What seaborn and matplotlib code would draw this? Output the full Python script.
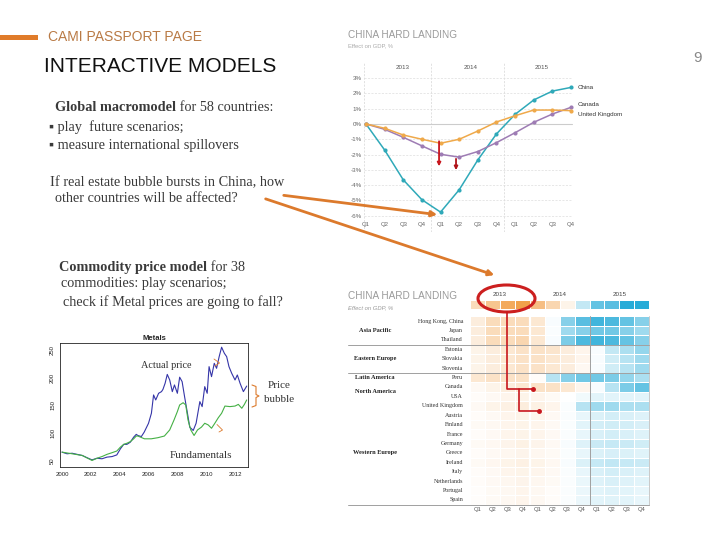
import numpy as np
import pandas as pd
import matplotlib
matplotlib.use('Agg')
import matplotlib.pyplot as plt
import seaborn as sns
from matplotlib.colors import LinearSegmentedColormap
from matplotlib.patches import Ellipse, Rectangle

# ---- data -------------------------------------------------------------
quarters = ['Q1', 'Q2', 'Q3', 'Q4'] * 3
years = ['2013', '2014', '2015']

# China hard landing scenario, effect on GDP (%)
china_gdp = [0.0, -1.7, -3.65, -4.95, -5.76, -4.3, -2.35, -0.65, 0.63, 1.57, 2.15, 2.39]
canada_gdp = [0.0, -0.35, -0.87, -1.43, -1.98, -2.17, -1.8, -1.22, -0.57, 0.11, 0.65, 1.09]
uk_gdp = [0.0, -0.28, -0.72, -1.0, -1.26, -1.0, -0.46, 0.13, 0.54, 0.91, 0.91, 0.87]

# heat map of the same scenario (relative effect, -1 .. 1)
heat_china = [-0.3, -0.5, -0.72, -0.8, -0.55, -0.35, -0.1, 0.25, 0.65, 0.7, 0.9, 0.9]
heat_rows = ['Hong Kong, China', 'Japan', 'Thailand', 'Estonia', 'Slovakia', 'Slovenia',
             'Peru', 'Canada', 'USA', 'United Kingdom', 'Austria', 'Finland', 'France',
             'Germany', 'Greece', 'Ireland', 'Italy', 'Netherlands', 'Portugal', 'Spain']
heat_values = [
    [-0.15, -0.3, -0.3, -0.3, -0.2, 0.03, 0.5, 0.7, 0.8, 0.75, 0.65, 0.5],
    [-0.15, -0.3, -0.3, -0.3, -0.2, 0.02, 0.4, 0.5, 0.6, 0.6, 0.5, 0.4],
    [-0.15, -0.3, -0.3, -0.35, -0.2, 0.03, 0.55, 0.75, 0.8, 0.75, 0.65, 0.5],
    [-0.1, -0.15, -0.2, -0.25, -0.25, -0.22, -0.15, -0.08, 0.03, 0.25, 0.35, 0.45],
    [-0.1, -0.15, -0.2, -0.25, -0.25, -0.2, -0.15, -0.08, 0.03, 0.2, 0.3, 0.4],
    [-0.1, -0.15, -0.2, -0.25, -0.25, -0.2, -0.15, -0.06, 0.03, 0.2, 0.3, 0.4],
    [-0.2, -0.25, -0.25, -0.25, -0.03, 0.3, 0.5, 0.6, 0.6, 0.55, 0.45, 0.35],
    [-0.05, -0.1, -0.15, -0.2, -0.25, -0.25, -0.2, -0.08, 0.03, 0.3, 0.55, 0.65],
    [-0.03, -0.05, -0.08, -0.1, -0.08, -0.04, 0.0, 0.06, 0.12, 0.12, 0.12, 0.12],
    [-0.05, -0.1, -0.12, -0.15, -0.12, -0.08, 0.02, 0.3, 0.4, 0.4, 0.35, 0.35],
    [-0.03, -0.05, -0.08, -0.1, -0.08, -0.05, 0.02, 0.1, 0.15, 0.18, 0.16, 0.14],
    [-0.04, -0.06, -0.08, -0.1, -0.08, -0.05, 0.02, 0.12, 0.18, 0.2, 0.18, 0.16],
    [-0.03, -0.05, -0.08, -0.1, -0.08, -0.05, 0.02, 0.1, 0.16, 0.18, 0.16, 0.14],
    [-0.04, -0.06, -0.09, -0.11, -0.09, -0.05, 0.03, 0.14, 0.22, 0.24, 0.22, 0.2],
    [-0.03, -0.05, -0.07, -0.09, -0.07, -0.04, 0.02, 0.1, 0.15, 0.17, 0.15, 0.13],
    [-0.04, -0.07, -0.1, -0.12, -0.1, -0.06, 0.03, 0.15, 0.24, 0.26, 0.24, 0.22],
    [-0.03, -0.05, -0.08, -0.1, -0.08, -0.05, 0.02, 0.1, 0.16, 0.18, 0.16, 0.14],
    [-0.03, -0.05, -0.07, -0.09, -0.07, -0.04, 0.02, 0.09, 0.14, 0.16, 0.14, 0.12],
    [-0.02, -0.04, -0.06, -0.08, -0.06, -0.03, 0.02, 0.08, 0.12, 0.14, 0.12, 0.1],
    [-0.02, -0.04, -0.06, -0.08, -0.06, -0.03, 0.02, 0.08, 0.12, 0.13, 0.12, 0.1],
]
regions = ['Asia Pacific', 'Eastern Europe', 'Latin America', 'North America', 'Western Europe']
region_rows = [1.5, 4.5, 6.5, 8.0, 14.5]

# metals price index vs fundamentals
actual_t = [2000.0, 2000.35, 2000.7, 2001.04, 2001.4, 2001.73, 2002.08, 2002.43, 2002.77,
            2003.12, 2003.47, 2003.8, 2004.05, 2004.28, 2004.5, 2004.74, 2004.97, 2005.15,
            2005.26, 2005.5, 2005.7, 2006.0, 2006.2, 2006.35, 2006.5, 2006.7, 2006.9,
            2007.0, 2007.15, 2007.3, 2007.47, 2007.65, 2007.8, 2008.0, 2008.16, 2008.33,
            2008.5, 2008.7, 2008.86, 2009.1, 2009.3, 2009.56, 2009.72, 2009.9, 2010.07,
            2010.2, 2010.37, 2010.56, 2010.72, 2010.9, 2011.07, 2011.26, 2011.42, 2011.58,
            2011.77, 2012.0, 2012.16, 2012.35, 2012.58, 2012.81]
actual_price = [66, 63, 64, 62, 60, 56, 52, 55, 54, 57, 58, 61, 72, 80, 80, 84, 93, 98,
                96, 94, 102, 118, 136, 169, 160, 172, 175, 179, 190, 206, 196, 175, 187,
                172, 201, 193, 166, 136, 111, 105, 118, 157, 148, 184, 172, 220, 202, 226,
                217, 238, 255, 244, 238, 220, 208, 196, 205, 190, 175, 185]
fund_t = [2000.0, 2000.7, 2001.4, 2002.08, 2002.43, 2002.77, 2003.12, 2003.47, 2003.8,
          2004.05, 2004.28, 2004.5, 2004.74, 2004.97, 2005.15, 2005.26, 2005.72, 2006.19,
          2006.65, 2007.1, 2007.47, 2007.77, 2008.0, 2008.16, 2008.4, 2008.58, 2008.74,
          2008.93, 2009.16, 2009.4, 2009.67, 2009.9, 2010.14, 2010.37, 2010.6, 2010.84,
          2011.07, 2011.3, 2011.65, 2012.0, 2012.23, 2012.47, 2012.65, 2012.81]
fund_price = [66, 63, 60, 51, 55, 58, 62, 65, 68, 75, 80, 82, 85, 90, 95, 95, 90, 90,
              92, 95, 106, 124, 139, 151, 155, 151, 124, 106, 96, 106, 111, 118, 115,
              109, 118, 128, 136, 149, 148, 149, 152, 145, 152, 160]

# ---- styling ----------------------------------------------------------
sns.set_style('white')
plt.rcParams['font.family'] = ['Liberation Sans', 'DejaVu Sans']
SERIF = ['Liberation Serif', 'DejaVu Serif']
ORANGE = '#DC7A2C'
RED = '#C8161D'
W, H = 720, 540

fig = plt.figure(figsize=(7.2, 5.4), dpi=100)


def px_axes(left, top, right, bottom):
    # axes from a pixel box (origin top-left)
    return fig.add_axes([left / W, 1 - bottom / H, (right - left) / W, (bottom - top) / H])


# ---- line chart: China hard landing -----------------------------------
ax = px_axes(364.1, 62, 572.0, 232)
line_df = pd.DataFrame({
    'q': list(range(12)) * 3,
    'gdp': china_gdp + canada_gdp + uk_gdp,
    'country': ['China'] * 12 + ['Canada'] * 12 + ['United Kingdom'] * 12,
})
pal = {'China': '#2FA9B9', 'Canada': '#9E7CB4', 'United Kingdom': '#EFA94A'}
ax.axhline(0, color='#cccccc', lw=0.8, zorder=1)
sns.lineplot(data=line_df, x='q', y='gdp', hue='country', palette=pal, marker='o',
             markersize=3, markeredgewidth=0, linewidth=1.1, legend=False, ax=ax,
             zorder=3)
for ln in ax.lines:
    ln.set_clip_on(False)
ax.set_xlim(-0.1, 11.05)
ax.set_ylim(-7.06, 4.05)
ax.set_yticks(range(-6, 4))
ax.set_yticklabels([f'{v}%' for v in range(-6, 4)])
ax.set_xticks([])
ax.tick_params(axis='y', length=0, labelsize=4.5, labelcolor='#666666', pad=1.5)
ax.grid(axis='y', ls=(0, (3, 2)), color='#dddddd', lw=0.5)
for xv in [-0.1, 3.5, 7.4, 11.05]:
    ax.axvline(xv, ls=(0, (3, 2)), color='#d5d5d5', lw=0.5, zorder=0)
sns.despine(ax=ax, left=True, bottom=True)
ax.set_xlabel('')
ax.set_ylabel('')
for i, q in enumerate(quarters):
    ax.text(i, -6.6, q, ha='center', va='center', fontsize=4.3, color='#666666')
for xv, yr in zip([1.95, 5.6, 9.4], years):
    ax.text(xv, 3.7, yr, ha='center', va='center', fontsize=4.5, color='#555555')
ax.text(11.35, china_gdp[-1], 'China', fontsize=4.5, va='center', color='#333333', clip_on=False)
ax.text(11.35, 1.24, 'Canada', fontsize=4.5, va='center', color='#333333', clip_on=False)
ax.text(11.35, 0.65, 'United Kingdom', fontsize=4.5, va='center', color='#333333', clip_on=False)
# downward shifts
ax.annotate('', xy=(3.92, -2.95), xytext=(3.92, -0.95),
            arrowprops=dict(arrowstyle='-|>', color=RED, lw=1.3, mutation_scale=5))
ax.annotate('', xy=(4.83, -3.2), xytext=(4.83, -2.1),
            arrowprops=dict(arrowstyle='-|>', color='#B0141A', lw=1.3, mutation_scale=5))

# ---- heat map ------------------------------------------------------------
cmap = LinearSegmentedColormap.from_list('ob', ['#EE8A1E', '#FFFFFF', '#12A3D4'])
col_labels = quarters
ax_c = px_axes(470, 300, 649.3, 309.3)
sns.heatmap(pd.DataFrame([heat_china], columns=range(12)), cmap=cmap, vmin=-1, vmax=1,
            linewidths=0.6, linecolor='white', cbar=False, ax=ax_c,
            xticklabels=False, yticklabels=False)
for xv, yr in zip([2.0, 6.0, 10.0], years):
    ax_c.text(xv, -0.6, yr, ha='center', va='center', fontsize=4.5, color='#444444')

ax_h = px_axes(470, 316.3, 649.3, 504.7)
heat_df = pd.DataFrame(heat_values, index=heat_rows, columns=range(12))
sns.heatmap(heat_df, cmap=cmap, vmin=-1, vmax=1, linewidths=0.6, linecolor='white',
            cbar=False, ax=ax_h, xticklabels=col_labels, yticklabels=True)
ax_h.tick_params(axis='y', length=0, pad=5, labelsize=4.3, labelcolor='#333333')
ax_h.tick_params(axis='x', length=0, pad=2, labelsize=4.2, labelcolor='#555555',
                 labelrotation=0)
for lab in ax_h.get_yticklabels():
    lab.set_fontfamily(SERIF)
ax_h.set_xlabel('')
ax_h.set_ylabel('')
ax_h.axvline(4, color='white', lw=1.6)
ax_h.axvline(8, color='#a0a0a0', lw=0.7)
ax_h.axvline(12, color='#c0c0c0', lw=0.6, clip_on=False)
ytr = ax_h.get_yaxis_transform()
for yv in [3, 6, 20]:
    ax_h.plot([-0.68, 1.0], [yv, yv], transform=ytr, color='#a0a0a0', lw=0.7, clip_on=False)
for reg, rr in zip(regions, region_rows):
    ax_h.text(-0.53, rr, reg, transform=ytr, ha='center', va='center', fontsize=4.6,
              fontweight='bold', family=SERIF, color='#222222')

# ---- metals chart ---------------------------------------------------------
ax_m = px_axes(60, 343, 248, 467)
sns.lineplot(x=actual_t, y=actual_price, color='#3535A8', lw=0.8, ax=ax_m)
sns.lineplot(x=fund_t, y=fund_price, color='#45B045', lw=0.8, ax=ax_m)
ax_m.set_xlim(1999.86, 2012.9)
ax_m.set_ylim(39.2, 262.6)
ax_m.set_xticks(range(2000, 2013, 2))
ax_m.set_yticks(range(50, 251, 50))
ax_m.tick_params(labelsize=4.3, length=2, width=0.5, pad=1.5, colors='#222222')
ax_m.tick_params(axis='y', labelrotation=90)
for lab in ax_m.get_yticklabels():
    lab.set_va('center')
for sp in ax_m.spines.values():
    sp.set_linewidth(0.6)
    sp.set_color('#222222')
ax_m.set_title('Metals', fontsize=5.5, fontweight='bold', pad=2)

# ---- slide overlay: text, arrows ----------------------------------------
ov = fig.add_axes([0, 0, 1, 1], zorder=10)
ov.set_xlim(0, W)
ov.set_ylim(H, 0)
ov.axis('off')
ov.patch.set_alpha(0)

ov.add_patch(Rectangle((0, 34.5), 38, 5, color='#E07B2A', lw=0))
ov.text(48, 37, 'CAMI PASSPORT PAGE', fontsize=10, color='#B97A45', va='center')
ov.text(44, 66, 'INTERACTIVE MODELS', fontsize=15, color='#111111', va='center')
ov.text(698, 58, '9', fontsize=11, color='#888888', va='center', ha='center')

txt = dict(family=SERIF, fontsize=10.3, color='#3a3a3a')
t1 = ov.text(55, 114, 'Global macromodel', va='bottom', fontweight='bold', **txt)
ov.annotate(' for 58 countries:', xy=(1, 0), xycoords=t1, va='bottom', **txt)
ov.text(49, 127, '\u25aa play  future scenarios;', va='center', **txt)
ov.text(49, 145, '\u25aa measure international spillovers', va='center', **txt)
ov.text(50, 183, 'If real estate bubble bursts in China, how', va='center', **txt)
ov.text(55, 198, 'other countries will be affected?', va='center', **txt)
t2 = ov.text(59, 274, 'Commodity price model', va='bottom', fontweight='bold', **txt)
ov.annotate(' for 38', xy=(1, 0), xycoords=t2, va='bottom', **txt)
ov.text(61, 284, 'commodities: play scenarios;', va='center', **txt)
ov.text(63, 302, 'check if Metal prices are going to fall?', va='center', **txt)

# chart titles
for y0 in [35, 296]:
    ov.text(348, y0, 'CHINA HARD LANDING', fontsize=7.2, color='#9a9a9a', va='center')
ov.text(348, 45.5, 'Effect on GDP, %', fontsize=4.2, color='#aaaaaa', va='center')
ov.text(348, 307.5, 'Effect on GDP, %', fontsize=4.2, color='#999999', va='center',
        style='italic')

# orange pointers from text to charts
ov.annotate('', xy=(440, 215), xytext=(281, 195),
            arrowprops=dict(arrowstyle='-|>', color=ORANGE, lw=2, mutation_scale=8))
ov.annotate('', xy=(497, 276), xytext=(263, 198),
            arrowprops=dict(arrowstyle='-|>', color=ORANGE, lw=2, mutation_scale=8))

# red circle and connectors on the heat map
ov.add_patch(Ellipse((506.5, 298.5), 57, 27, fill=False, ec='#CC1F1F', lw=2.2))
ov.plot([506.7, 506.7, 533.3], [311.7, 388.5, 388.5], color=RED, lw=1.2)
ov.plot([519, 519, 539], [388.5, 411, 411], color=RED, lw=1.2)
ov.plot([533.3, 539], [388.5, 411], 'o', color=RED, ms=2.5)

# metals annotations
ov.text(166, 365, 'Actual price', family=SERIF, fontsize=7.4, color='#333333',
        ha='center', va='center')
ov.text(201, 456, 'Fundamentals', family=SERIF, fontsize=8, color='#333333',
        ha='center', va='center')
ov.text(279, 386, 'Price', family=SERIF, fontsize=8, color='#333333', ha='center', va='center')
ov.text(279, 399.5, 'bubble', family=SERIF, fontsize=8, color='#333333', ha='center', va='center')
ov.plot([214, 219.5, 215], [359, 363, 366], color=ORANGE, lw=0.6)
ov.plot([217, 222.5, 219], [424.5, 430, 432], color=ORANGE, lw=0.6)
# curly bracket
ov.plot([252, 256, 256, 259, 256, 256, 252],
        [385, 386.5, 394.5, 396, 397.5, 405.5, 407], color=ORANGE, lw=0.8)

fig.savefig('out.png', dpi=100)
